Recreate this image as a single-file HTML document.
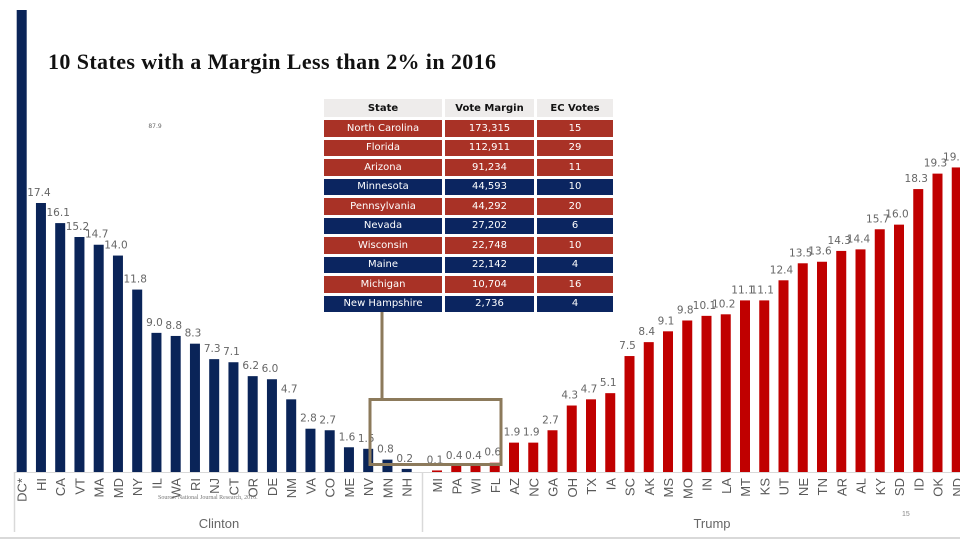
<!DOCTYPE html>
<html><head><meta charset="utf-8"><style>
body{margin:0;width:960px;height:540px;background:#fff;overflow:hidden;position:relative;font-family:"Liberation Sans",sans-serif}
#title{position:absolute;left:48px;top:49px;font-family:"Liberation Serif",serif;font-weight:bold;font-size:22px;letter-spacing:0.4px;color:#111;margin:0}
table{position:absolute;left:324px;top:99px;border-collapse:separate;border-spacing:3px;margin:-3px;font-family:"DejaVu Sans",sans-serif;font-size:10px}
td,th{height:16.5px;padding:0;text-align:center;color:#fff;font-weight:normal}
th{background:#eeeceb;color:#111;font-weight:bold;height:18px}
.r td{background:#a93226}.b td{background:#0b2560}
</style></head><body>
<svg id="chart" width="960" height="540" style="position:absolute;left:0;top:0"></svg>
<h1 id="title">10 States with a Margin Less than 2% in 2016</h1>
<table>
<tr><th style="width:118px">State</th><th style="width:89px">Vote Margin</th><th style="width:76px">EC Votes</th></tr>
<tr class="r"><td>North Carolina</td><td>173,315</td><td>15</td></tr>
<tr class="r"><td>Florida</td><td>112,911</td><td>29</td></tr>
<tr class="r"><td>Arizona</td><td>91,234</td><td>11</td></tr>
<tr class="b"><td>Minnesota</td><td>44,593</td><td>10</td></tr>
<tr class="r"><td>Pennsylvania</td><td>44,292</td><td>20</td></tr>
<tr class="b"><td>Nevada</td><td>27,202</td><td>6</td></tr>
<tr class="r"><td>Wisconsin</td><td>22,748</td><td>10</td></tr>
<tr class="b"><td>Maine</td><td>22,142</td><td>4</td></tr>
<tr class="r"><td>Michigan</td><td>10,704</td><td>16</td></tr>
<tr class="b"><td>New Hampshire</td><td>2,736</td><td>4</td></tr>
</table>
<script>
const clintonStates=["DC*","HI","CA","VT","MA","MD","NY","IL","WA","RI","NJ","CT","OR","DE","NM","VA","CO","ME","NV","MN","NH"];
const clintonValues=[87.9,17.4,16.1,15.2,14.7,14.0,11.8,9.0,8.8,8.3,7.3,7.1,6.2,6.0,4.7,2.8,2.7,1.6,1.5,0.8,0.2];
const trumpStates=["MI","PA","WI","FL","AZ","NC","GA","OH","TX","IA","SC","AK","MS","MO","IN","LA","MT","KS","UT","NE","TN","AR","AL","KY","SD","ID","OK","ND"];
const trumpValues=[0.1,0.4,0.4,0.6,1.9,1.9,2.7,4.3,4.7,5.1,7.5,8.4,9.1,9.8,10.1,10.2,11.1,11.1,12.4,13.5,13.6,14.3,14.4,15.7,16.0,18.3,19.3,19.7];
const groupLabels=["Clinton","Trump"];

const svg=document.getElementById('chart');
const NS='http://www.w3.org/2000/svg';
const base=472, pxPer=15.46, step=19.25, bw=10;
function y(v){return Math.max(10,base-v*pxPer);}
function xC(i){return 21.7+i*step;}
function xT(j){return 437+j*step;}
function mk(tag,attrs){const e=document.createElementNS(NS,tag);for(const k in attrs)e.setAttribute(k,attrs[k]);svg.appendChild(e);return e;}

let e=mk('line',{x1:14,x2:960,y1:base+0.5,y2:base+0.5,stroke:'#d9d9d9','stroke-width':1});


[14,422].forEach(function(xx){
  const l=mk('line',{x1:xx+0.5,x2:xx+0.5,y1:base,y2:532,stroke:'#d9d9d9','stroke-width':1.5});
  
  
});
e=mk('line',{x1:0,x2:960,y1:538,y2:538,stroke:'#d9d9d9','stroke-width':2});



function drawBars(states,vals,xf,color){
  states.forEach(function(s,i){
    const v=vals[i],cx=xf(i),top=y(v);
    const r=mk('rect',{x:cx-bw/2,y:top,width:bw,height:base-top,fill:color});
    
    
    const t=mk('text',{x:v>50?155:cx-2,y:v>50?128:top-7,'text-anchor':'middle','font-size':v>50?6:10.5,fill:'#666','font-family':'DejaVu Sans, sans-serif'});
    t.textContent=v.toFixed(1);
    
    
    const c=mk('text',{x:0,y:0,transform:'translate('+(cx+5)+','+(base+6)+') rotate(-90)','text-anchor':'end','font-size':13,fill:'#595959'});
    c.textContent=s;
    
    
  });
}
drawBars(clintonStates,clintonValues,xC,'#0a2458');
drawBars(trumpStates,trumpValues,xT,'#c00000');

[[219,groupLabels[0]],[712,groupLabels[1]]].forEach(function(g){
  const t=mk('text',{x:g[0],y:528,'text-anchor':'middle','font-size':13,fill:'#666'});
  t.textContent=g[1];
  
  
});

e=mk('rect',{x:370,y:399.5,width:131,height:65,fill:'none',stroke:'#8c7a5b','stroke-width':3});


e=mk('line',{x1:382,x2:382,y1:312,y2:399,stroke:'#8c7a5b','stroke-width':3});



e=mk('text',{x:158,y:499,'font-size':6,fill:'#777','font-family':'Liberation Serif, serif'});
e.textContent='Source: National Journal Research, 2016.';


e=mk('text',{x:902,y:516,'font-size':7,fill:'#888'});
e.textContent='15';


</script>
</body></html>
